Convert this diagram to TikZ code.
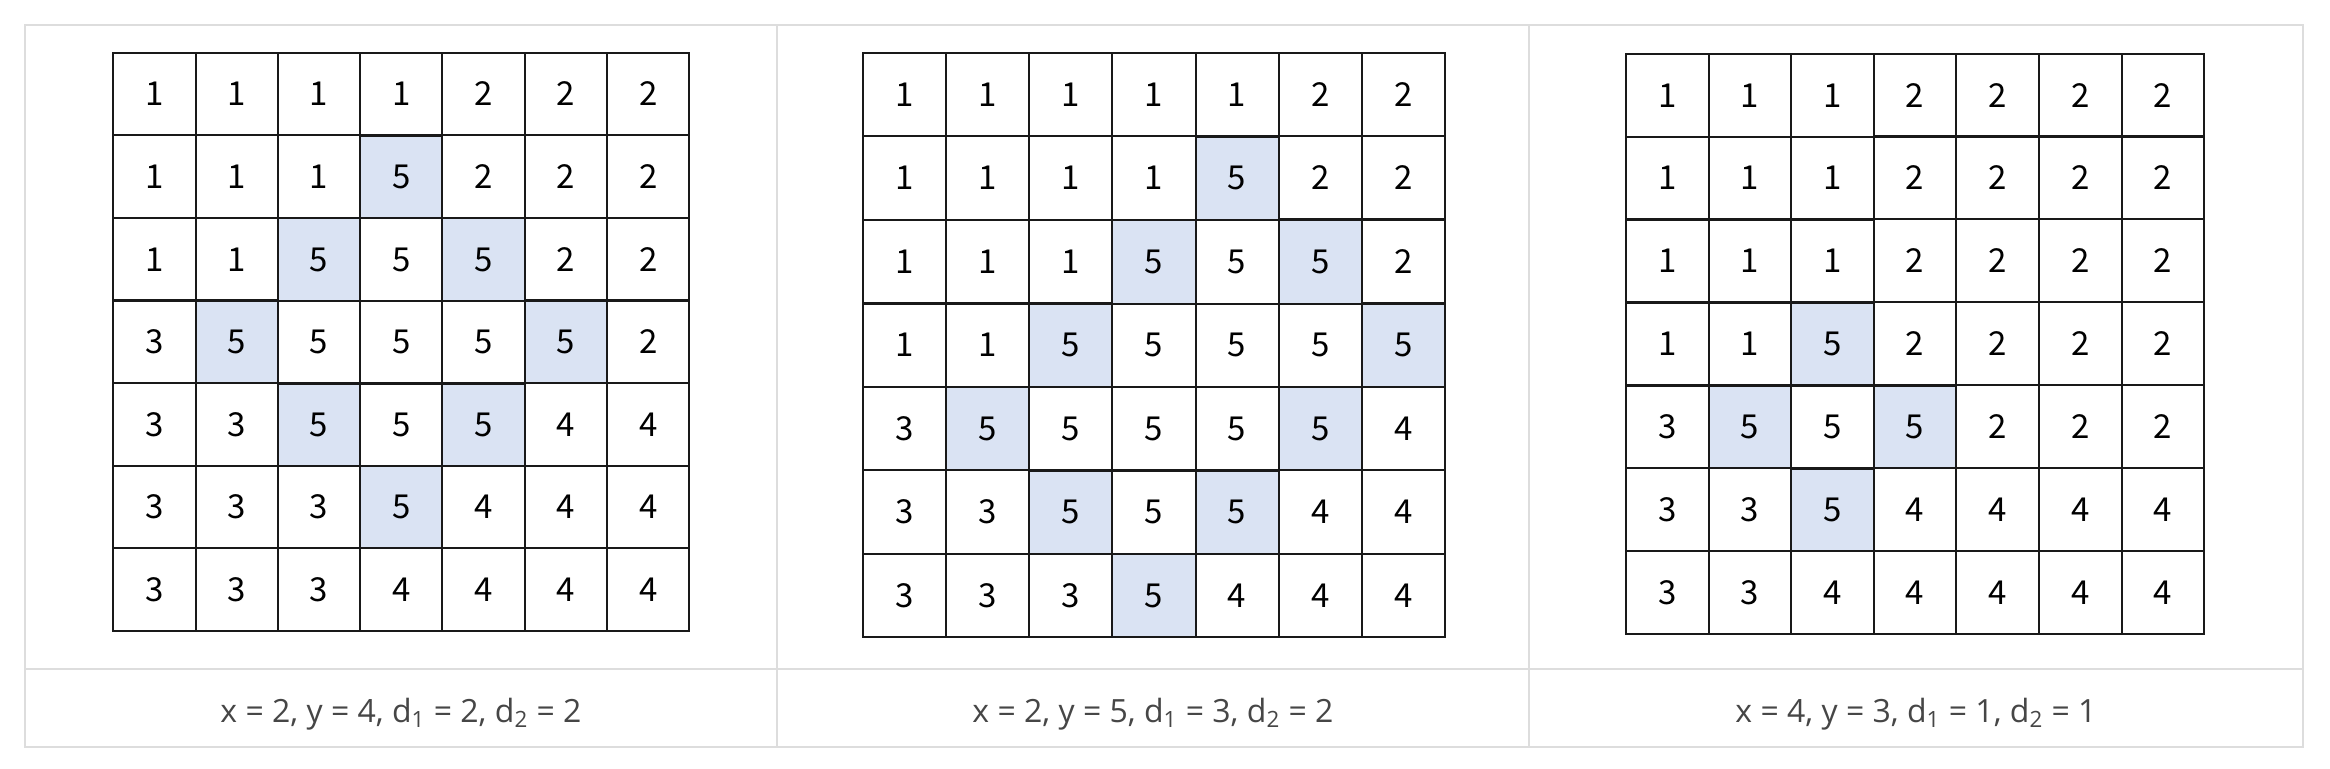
\documentclass[tikz,border=0pt]{standalone}
\usepackage{fontspec}
\setmainfont{Open Sans}
\newfontfamily\cellfont{Noto Sans CJK KR}
\usepackage{tikz}
\usetikzlibrary{matrix}
\usepackage{xcolor}

\definecolor{hlblue}{RGB}{218,227,243}
\definecolor{rulegray}{RGB}{221,221,221}
\definecolor{captext}{RGB}{70,70,70}

\tikzset{
  cell/.style={draw=black!90, line width=1pt, inner sep=0pt, outer sep=0pt,
    font=\cellfont\fontsize{16.5}{16.5}\selectfont, text=black},
  hl/.style={fill=hlblue},
  grid/.style={matrix of nodes, nodes={cell, minimum size=#1},
    column sep=-1pt, row sep=-1pt},
  caption/.style={font=\fontsize{16}{16}\selectfont, text=captext}
}

\begin{document}
\begin{tikzpicture}[x=0.5pt, y=-0.5pt]
        \useasboundingbox (0,0) rectangle (2330,768);

        % table frame
        \draw[rulegray, line width=1pt] (25,25) rectangle (2303,747);
        \draw[rulegray, line width=1pt] (25,669) -- (2303,669);
        \foreach \x in {777,1529}
            \draw[rulegray, line width=1pt] (\x,25) -- (\x,747);

        \matrix (g1) [grid=41.15pt] at (401.3,341.7) {
        1 & 1 & 1 & 1 & 2 & 2 & 2\\
        1 & 1 & 1 & |[hl]| 5 & 2 & 2 & 2\\
        1 & 1 & |[hl]| 5 & 5 & |[hl]| 5 & 2 & 2\\
        3 & |[hl]| 5 & 5 & 5 & 5 & |[hl]| 5 & 2\\
        3 & 3 & |[hl]| 5 & 5 & |[hl]| 5 & 4 & 4\\
        3 & 3 & 3 & |[hl]| 5 & 4 & 4 & 4\\
        3 & 3 & 3 & 4 & 4 & 4 & 4\\};

        \matrix (g2) [grid=41.6pt] at (1153.9,345) {
        1 & 1 & 1 & 1 & 1 & 2 & 2\\
        1 & 1 & 1 & 1 & |[hl]| 5 & 2 & 2\\
        1 & 1 & 1 & |[hl]| 5 & 5 & |[hl]| 5 & 2\\
        1 & 1 & |[hl]| 5 & 5 & 5 & 5 & |[hl]| 5\\
        3 & |[hl]| 5 & 5 & 5 & 5 & |[hl]| 5 & 4\\
        3 & 3 & |[hl]| 5 & 5 & |[hl]| 5 & 4 & 4\\
        3 & 3 & 3 & |[hl]| 5 & 4 & 4 & 4\\};

        \matrix (g3) [grid=41.3pt] at (1915,343.8) {
        1 & 1 & 1 & 2 & 2 & 2 & 2\\
        1 & 1 & 1 & 2 & 2 & 2 & 2\\
        1 & 1 & 1 & 2 & 2 & 2 & 2\\
        1 & 1 & |[hl]| 5 & 2 & 2 & 2 & 2\\
        3 & |[hl]| 5 & 5 & |[hl]| 5 & 2 & 2 & 2\\
        3 & 3 & |[hl]| 5 & 4 & 4 & 4 & 4\\
        3 & 3 & 4 & 4 & 4 & 4 & 4\\};

        % captions
        \node[caption] (c1) at (401,714) {x = 2, y = 4, d\textsubscript{1} = 2, d\textsubscript{2} = 2};
        \node[caption] (c2) at (1153,714) {x = 2, y = 5, d\textsubscript{1} = 3, d\textsubscript{2} = 2};
        \node[caption] (c3) at (1916,714) {x = 4, y = 3, d\textsubscript{1} = 1, d\textsubscript{2} = 1};
\end{tikzpicture}
\end{document}
